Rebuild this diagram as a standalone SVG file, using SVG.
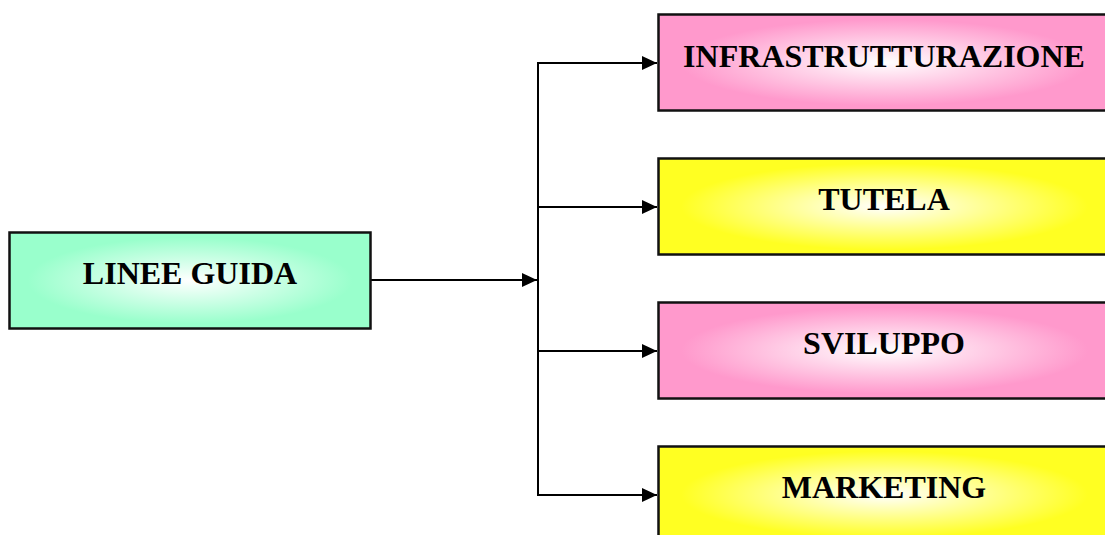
<svg xmlns="http://www.w3.org/2000/svg" width="1105" height="535" viewBox="0 0 1105 535">
  <style>
    .box { stroke: #111; stroke-width: 2.5; }
    .lbl { font-family: "Liberation Serif", "Times New Roman", serif; font-weight: bold; font-size: 32px; fill: #000; text-anchor: middle; }
    .conn { fill: none; stroke: #000; stroke-width: 2; }
  </style>
  <defs>
    <radialGradient id="gGreen" cx="0.5" cy="0.5" r="0.6">
      <stop offset="0" stop-color="#ffffff"/>
      <stop offset="0.75" stop-color="#99ffcc"/>
      <stop offset="1" stop-color="#99ffcc"/>
    </radialGradient>
    <radialGradient id="gPink" cx="0.5" cy="0.5" r="0.6">
      <stop offset="0" stop-color="#ffffff"/>
      <stop offset="0.75" stop-color="#ff99cc"/>
      <stop offset="1" stop-color="#ff99cc"/>
    </radialGradient>
    <radialGradient id="gYellow" cx="0.5" cy="0.5" r="0.6">
      <stop offset="0" stop-color="#ffffff"/>
      <stop offset="0.75" stop-color="#ffff22"/>
      <stop offset="1" stop-color="#ffff22"/>
    </radialGradient>
    <marker id="arr" markerWidth="15" markerHeight="14" refX="15" refY="7" orient="auto" markerUnits="userSpaceOnUse">
      <path d="M0,0 L15,7 L0,14 Z" fill="#000"/>
    </marker>
  </defs>

  <g id="connectors">
    <line class="conn" x1="371" y1="280" x2="537" y2="280" marker-end="url(#arr)"/>
    <line class="conn" x1="538" y1="62" x2="538" y2="496"/>
    <line class="conn" x1="537" y1="63" x2="657" y2="63" marker-end="url(#arr)"/>
    <line class="conn" x1="537" y1="207" x2="657" y2="207" marker-end="url(#arr)"/>
    <line class="conn" x1="537" y1="351" x2="657" y2="351" marker-end="url(#arr)"/>
    <line class="conn" x1="537" y1="495" x2="657" y2="495" marker-end="url(#arr)"/>
  </g>

  <g id="node-linee-guida">
    <rect class="box" x="9.5" y="232.5" width="361" height="96" fill="url(#gGreen)"/>
    <text class="lbl" x="190" y="284">LINEE GUIDA</text>
  </g>
  <g id="node-infrastrutturazione">
    <rect class="box" x="658.5" y="14.5" width="452" height="96" fill="url(#gPink)"/>
    <text class="lbl" x="884" y="67">INFRASTRUTTURAZIONE</text>
  </g>
  <g id="node-tutela">
    <rect class="box" x="658.5" y="158.5" width="452" height="96" fill="url(#gYellow)"/>
    <text class="lbl" x="884" y="210">TUTELA</text>
  </g>
  <g id="node-sviluppo">
    <rect class="box" x="658.5" y="302.5" width="452" height="96" fill="url(#gPink)"/>
    <text class="lbl" x="884" y="354">SVILUPPO</text>
  </g>
  <g id="node-marketing">
    <rect class="box" x="658.5" y="446.5" width="452" height="96" fill="url(#gYellow)"/>
    <text class="lbl" x="884" y="498">MARKETING</text>
  </g>
</svg>
